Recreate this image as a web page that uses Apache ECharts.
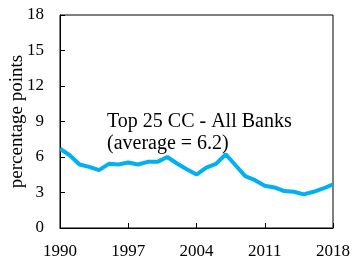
<!DOCTYPE html>
<html>
<head>
<meta charset="utf-8">
<script src="https://cdn.jsdelivr.net/npm/echarts@6/dist/echarts.min.js"></script>
<style>
  html, body { margin: 0; padding: 0; background: #fff; }
  #chart { width: 354px; height: 260px; }
</style>
</head>
<body>
<div id="chart"></div>
<script>
const years = [];
for (let y = 1990; y <= 2018; y++) years.push(String(y));

// top 25 CC minus all banks, percentage points
const spread = [
  6.7, 6.15, 5.37, 5.17, 4.89, 5.42, 5.37, 5.53, 5.37, 5.59,
  5.59, 6.0, 5.45, 4.97, 4.52, 5.11, 5.42, 6.23, 5.3, 4.38,
  4.04, 3.57, 3.43, 3.12, 3.06, 2.84, 3.06, 3.34, 3.68,
];

const font = '"Liberation Serif", "Times New Roman", serif';

const chart = echarts.init(document.getElementById('chart'));

const option = {
  animation: false,
  grid: {
    left: 60,
    right: 21,
    top: 15,
    bottom: 32,
    outerBoundsMode: 'none',
  },
  xAxis: {
    type: 'category',
    data: years,
    boundaryGap: false,
    axisLine: { lineStyle: { color: '#000', width: 1 } },
    axisTick: { inside: true, interval: 6, length: 5, lineStyle: { color: '#000' } },
    axisLabel: { interval: 6, color: '#000', fontFamily: font, fontSize: 17, margin: 15 },
    splitLine: { show: false },
  },
  yAxis: {
    type: 'value',
    min: 0,
    max: 18,
    interval: 3,
    name: 'percentage points',
    nameLocation: 'middle',
    nameGap: 33,
    nameMoveOverlap: false,
    nameTextStyle: { color: '#000', fontFamily: font, fontSize: 19 },
    axisLine: { show: true, lineStyle: { color: '#000', width: 1 } },
    axisTick: { show: true, inside: true, length: 5, lineStyle: { color: '#000' } },
    axisLabel: { color: '#000', fontFamily: font, fontSize: 17, margin: 16 },
    splitLine: { show: false },
  },
  graphic: [
    {
      type: 'rect',
      shape: { x: 60, y: 15, width: 273, height: 213 },
      style: { fill: 'none', stroke: '#000', lineWidth: 1 },
      z: 0,
    },
    {
      type: 'text',
      left: 107,
      top: 111,
      style: {
        text: 'Top 25 CC - All Banks\n(average = 6.2)',
        font: '20px ' + font,
        fill: '#000',
        lineHeight: 22,
      },
    },
  ],
  series: [
    {
      name: 'Top 25 CC - All Banks',
      type: 'line',
      data: spread,
      symbol: 'none',
      lineStyle: { color: '#00B0F0', width: 4 },
    },
  ],
};

chart.setOption(option);
</script>
</body>
</html>
